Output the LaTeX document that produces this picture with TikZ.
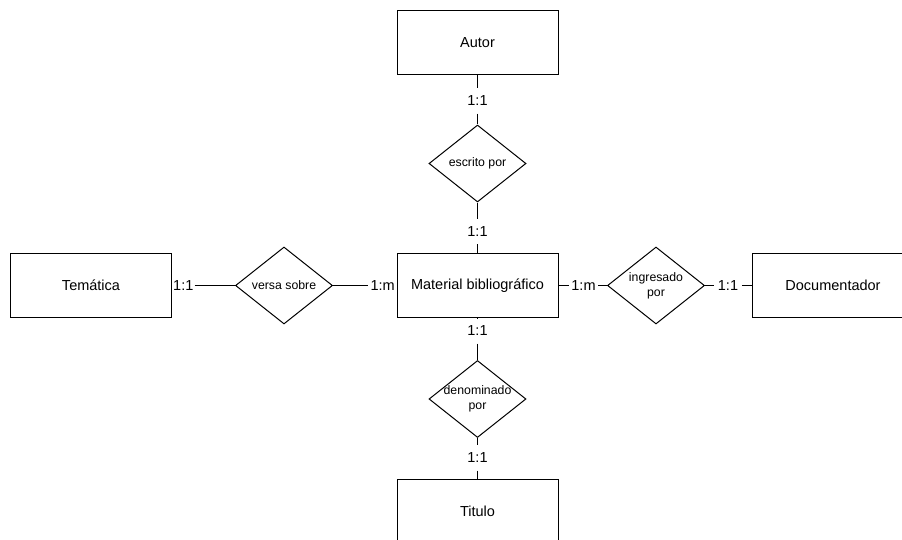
\documentclass[tikz,border=0pt]{standalone}
\usepackage{fontspec}
\setmainfont{Liberation Sans}
\usetikzlibrary{shapes.geometric}
\begin{document}
\begin{tikzpicture}[x=1pt,y=-1pt,
  entity/.style={draw, line width=1pt, minimum width=161pt, minimum height=64pt,
    inner sep=0pt, font=\fontsize{14.5}{17}\selectfont},
  relation/.style={draw, diamond, line width=1pt, minimum width=97pt, minimum height=77pt,
    inner sep=0pt},
  reltext/.style={inner sep=0pt, align=center, font=\fontsize{12.3}{15}\selectfont},
  cardv/.style={inner xsep=1pt, inner ysep=7.5pt, font=\fontsize{14.5}{17}\selectfont},
  cardh/.style={inner ysep=1pt, font=\fontsize{14.5}{17}\selectfont},
  link/.style={line width=1pt}]
\useasboundingbox (0,0) rectangle (902,540);
\clip (0,0) rectangle (902,540);

% entities
\node[entity] (autor)        at (477.5,43)    {Autor};
\node[entity] (material)     at (477.5,285.5) {Material bibliográfico};
\node[entity] (tematica)     at (91,285.5)    {Temática};
\node[entity] (documentador) at (833,285.5)   {Documentador};
\node[entity] (titulo)       at (477.5,511.5) {Titulo};

% relationships (the wording may spill over the diamond's outline)
\node[relation, label={[reltext]center:escrito por}]       (escrito)    at (477.5,163.5) {};
\node[relation, label={[reltext]center:versa sobre}]       (versa)      at (284,285.5)   {};
\node[relation, label={[reltext]center:ingresado\\por}]    (ingresado)  at (656,285.5)   {};
\node[relation, label={[reltext]center:denominado\\por}]   (denominado) at (477.5,399)   {};

% cardinalities
\node[cardv] (cAutor)  at (477.5,101)   {1:1};
\node[cardv] (cEscr)   at (477.5,231.5) {1:1};
\node[cardv] (cDenom)  at (477.5,331)   {1:1};
\node[cardv] (cTitulo) at (477.5,458)   {1:1};
\node[cardh, inner xsep=1pt, anchor=west] (cTema)  at (172,285.5) {1:1};
\node[cardh, inner xsep=2pt, anchor=east] (cVersa) at (397,285.5) {1:m};
\node[cardh, inner xsep=2.5pt] (cIngr) at (583.5,285.5) {1:m};
\node[cardh, inner xsep=3.5pt] (cDoc)  at (728,285.5)   {1:1};

% connectors
\draw[link] (autor) -- (cAutor);
\draw[link] (cAutor) -- (escrito);
\draw[link] (escrito) -- (cEscr);
\draw[link] (cEscr) -- (material);
\draw[link] (material) -- (cDenom);
\draw[link] (cDenom) -- (denominado);
\draw[link] (denominado) -- (cTitulo);
\draw[link] (cTitulo) -- (titulo);
\draw[link] (cTema) -- (versa);
\draw[link] (versa) -- (cVersa);
\draw[link] (material) -- (cIngr);
\draw[link] (cIngr) -- (ingresado);
\draw[link] (ingresado) -- (cDoc);
\draw[link] (cDoc) -- (documentador);
\end{tikzpicture}
\end{document}
